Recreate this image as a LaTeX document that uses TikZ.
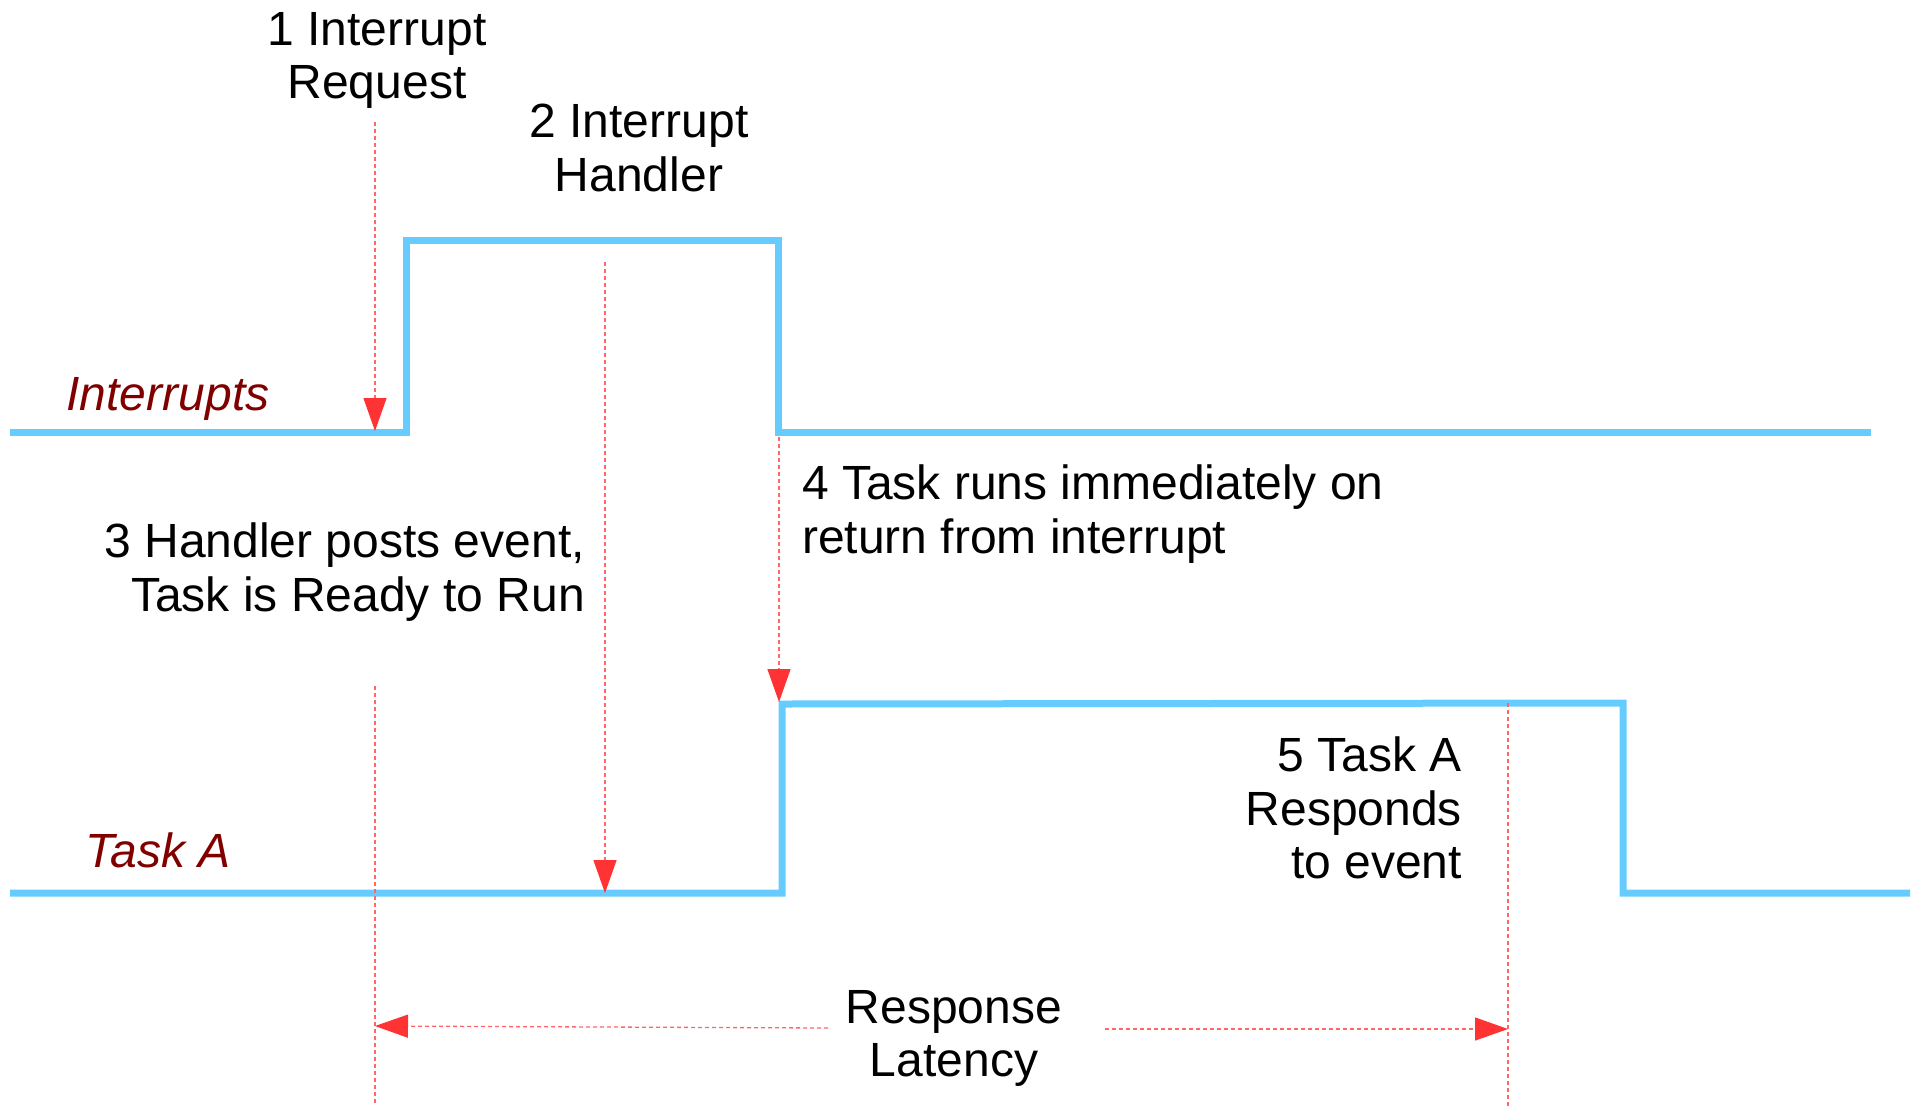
\documentclass[tikz,border=0pt]{standalone}
\usepackage{fontspec}
\setmainfont{Liberation Sans}
\usetikzlibrary{arrows.meta}
\definecolor{wave}{HTML}{66CCFF}
\definecolor{mark}{HTML}{FF3333}
\definecolor{lbl}{HTML}{800000}
\tikzset{
  wavestyle/.style={draw=wave, line width=7pt, line join=miter},
  guide/.style={draw=mark!75, line width=1.3pt, dash pattern=on 4pt off 3pt},
  guidearrow/.style={guide, -{Triangle[length=33pt,width=23pt,color=mark,fill=mark]}},
  txt/.style={inner sep=0pt, font=\fontsize{48}{53.5}\selectfont},
  siglabel/.style={inner sep=0pt, text=lbl, font=\fontsize{48}{53.5}\selectfont\itshape, anchor=base}
}
\begin{document}
\begin{tikzpicture}[x=1pt, y=-1pt]
\useasboundingbox (0,0) rectangle (1920,1112);
% waveform corner points
\coordinate (i0) at (10,432);
\coordinate (i1) at (406,432);
\coordinate (i2) at (406,240);
\coordinate (i3) at (778,240);
\coordinate (i4) at (778,432);
\coordinate (i5) at (1871,432);
\coordinate (t0) at (10,893);
\coordinate (t1) at (782,893);
\coordinate (t2) at (782,704);
\coordinate (t3) at (1623,703);
\coordinate (t4) at (1623,893);
\coordinate (t5) at (1910,893);
\draw[wavestyle] (i0) -- (i1) -- (i2) -- (i3) -- (i4) -- (i5);
\draw[wavestyle] (t0) -- (t1) -- (t2) -- (t3) -- (t4) -- (t5);
% labels
\node[txt, anchor=north, align=center] (l1) at (377,12) {1 Interrupt\\Request};
\node[txt, anchor=north, align=center] (l2) at (639,104) {2 Interrupt\\Handler};
\node[siglabel] (lint) at (168,410) {Interrupts};
\node[txt, anchor=north east, align=right] (l3) at (585,523) {3 Handler posts event,\\Task is Ready to Run};
\node[txt, anchor=north west, align=left] (l4) at (802,465) {4 Task runs immediately on\\return from interrupt};
\node[siglabel] (ltask) at (158,867) {Task A};
\node[txt, anchor=north east, align=right] (l5) at (1462,737) {5 Task A\\Responds\\to event};
\node[txt, anchor=north, align=center] (llat) at (954,990) {Response\\Latency};
% guide coordinates
\coordinate (g1s) at (375,122);
\coordinate (g1e) at (375,431);
\coordinate (g1b) at (375,686);
\coordinate (g1f) at (375,1104);
\coordinate (g2s) at (605,262);
\coordinate (g2e) at (605,893);
\coordinate (g4s) at (779,437);
\coordinate (g4e) at (779,702);
\coordinate (g5s) at (1508,703);
\coordinate (g5f) at (1508,1108);
\coordinate (latL) at (375,1026);
\coordinate (latLs) at (828,1028);
\coordinate (latRs) at (1105,1029);
\coordinate (latR) at (1508,1029);
% guides
\draw[guidearrow] (g1s) -- (g1e);
\draw[guide] (g1b) -- (g1f);
\draw[guidearrow] (g2s) -- (g2e);
\draw[guidearrow] (g4s) -- (g4e);
\draw[guide] (g5s) -- (g5f);
\draw[guidearrow] (latLs) -- (latL);
\draw[guidearrow] (latRs) -- (latR);
\end{tikzpicture}
\end{document}
